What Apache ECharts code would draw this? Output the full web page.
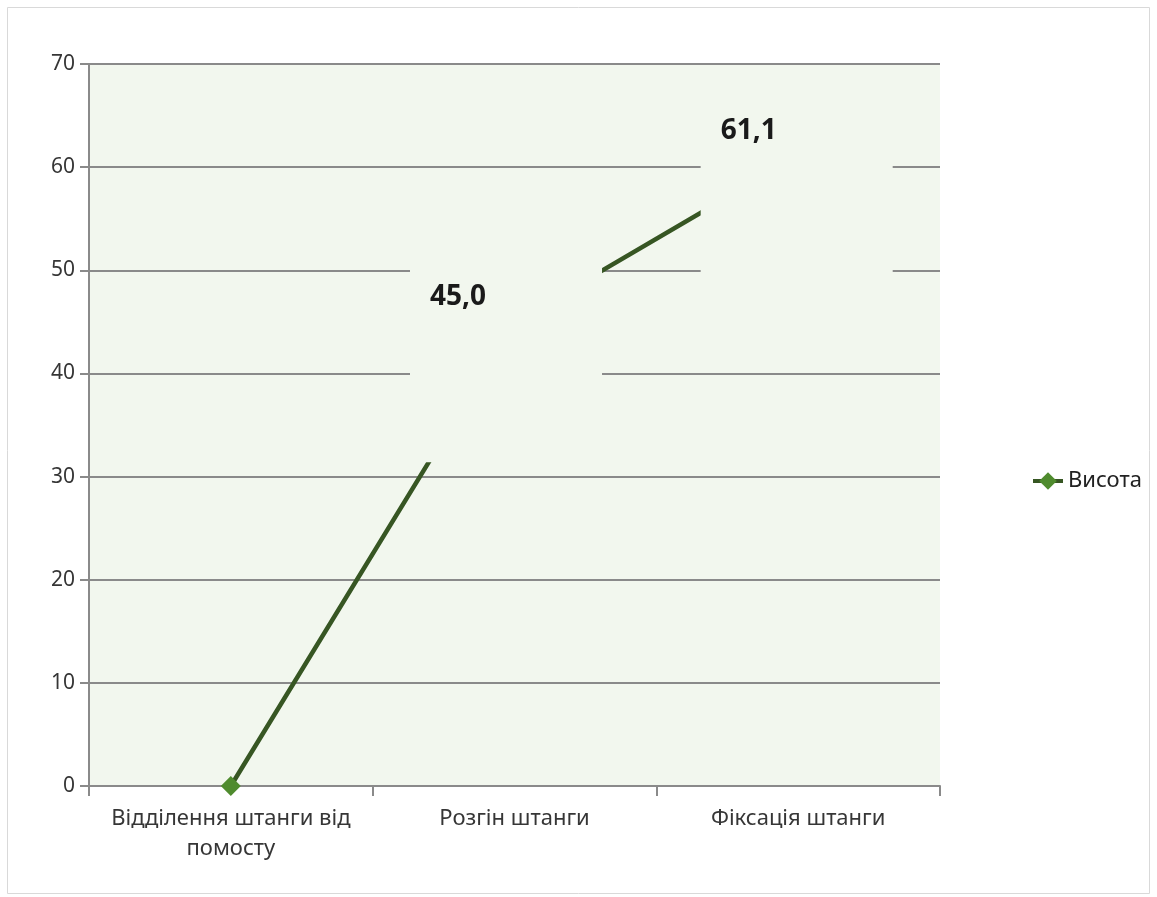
<!DOCTYPE html>
<html>
<head>
<meta charset="utf-8">
<script src="https://cdn.jsdelivr.net/npm/echarts@6/dist/echarts.min.js"></script>
<style>
  html, body { margin: 0; padding: 0; background: #ffffff; }
  #chart { width: 1157px; height: 897px; }
</style>
</head>
<body>
<div id="chart"></div>
<script>
// Phases of the lift (tick labels) and bar height at each phase
const categories = ['Відділення штанги від\nпомосту', 'Розгін штанги', 'Фіксація штанги'];
const heights = [0, 45.0, 61.1];
const seriesName = 'Висота';
// Which points carry a value label
const labelled = [false, true, true];

const plotBg = '#f2f7ee';
const gridGray = '#8a8a8a';
const textGray = '#363636';
const font = 'Noto Sans';

// Value labels sit in large boxes filled with the plot colour,
// offset up-left from their point (small per-point nudge)
const labelNudgeX = [0, -104, -97];
const labelData = heights.map((v, i) => ({
  value: v,
  label: labelled[i] ? {
    show: true,
    position: [labelNudgeX[i], -81],
    formatter: (p) => p.value.toFixed(1).replace('.', ',')
  } : { show: false }
}));

const chart = echarts.init(document.getElementById('chart'), null, { renderer: 'canvas' });
chart.setOption({
  animation: false,
  backgroundColor: '#ffffff',
  textStyle: { fontFamily: font },
  graphic: [{
    type: 'rect',
    shape: { x: 7.5, y: 7.5, width: 1142, height: 886 },
    style: { fill: 'none', stroke: '#d9d9d9', lineWidth: 1 },
    silent: true
  }],
  grid: {
    left: 89, right: 217, top: 64, bottom: 111,
    show: true, backgroundColor: plotBg, borderWidth: 0
  },
  legend: {
    data: [seriesName],
    orient: 'vertical',
    left: 1026, top: 465,
    itemWidth: 30, itemHeight: 22, itemGap: 5,
    lineStyle: { width: 4 },
    textStyle: { fontFamily: font, fontSize: 22, color: '#222222' }
  },
  xAxis: {
    type: 'category',
    data: categories,
    boundaryGap: true,
    axisLine: { lineStyle: { color: gridGray, width: 2 } },
    axisTick: { show: true, length: 10, lineStyle: { color: gridGray, width: 2 } },
    axisLabel: {
      interval: 0, margin: 18, fontFamily: font, fontSize: 22, color: textGray,
      lineHeight: 30, overflow: 'none', hideOverlap: false
    }
  },
  yAxis: {
    type: 'value',
    min: 0, max: 70, interval: 10,
    axisLine: { show: true, lineStyle: { color: gridGray, width: 2 } },
    axisTick: { show: true, length: 9, lineStyle: { color: gridGray, width: 2 } },
    axisLabel: { margin: 14, fontFamily: font, fontSize: 21, color: textGray },
    splitLine: { show: true, lineStyle: { color: gridGray, width: 2 } }
  },
  series: [
    {
      name: seriesName,
      type: 'line',
      z: 2,
      data: heights,
      symbol: 'diamond',
      symbolSize: 20,
      lineStyle: { color: '#375623', width: 4.5 },
      itemStyle: { color: '#4f8b2e' }
    },
    {
      name: 'labels',
      type: 'scatter',
      z: 5,
      silent: true,
      data: labelData,
      symbolSize: 1,
      itemStyle: { color: 'rgba(0,0,0,0)', opacity: 1 },
      label: {
        fontFamily: font,
        fontSize: 28,
        fontWeight: 'bold',
        lineHeight: 28,
        color: '#1a1a1a',
        opacity: 1,
        backgroundColor: plotBg,
        padding: [43, 116, 151, 20],
        align: 'left',
        verticalAlign: 'top'
      }
    }
  ]
});
</script>
</body>
</html>
